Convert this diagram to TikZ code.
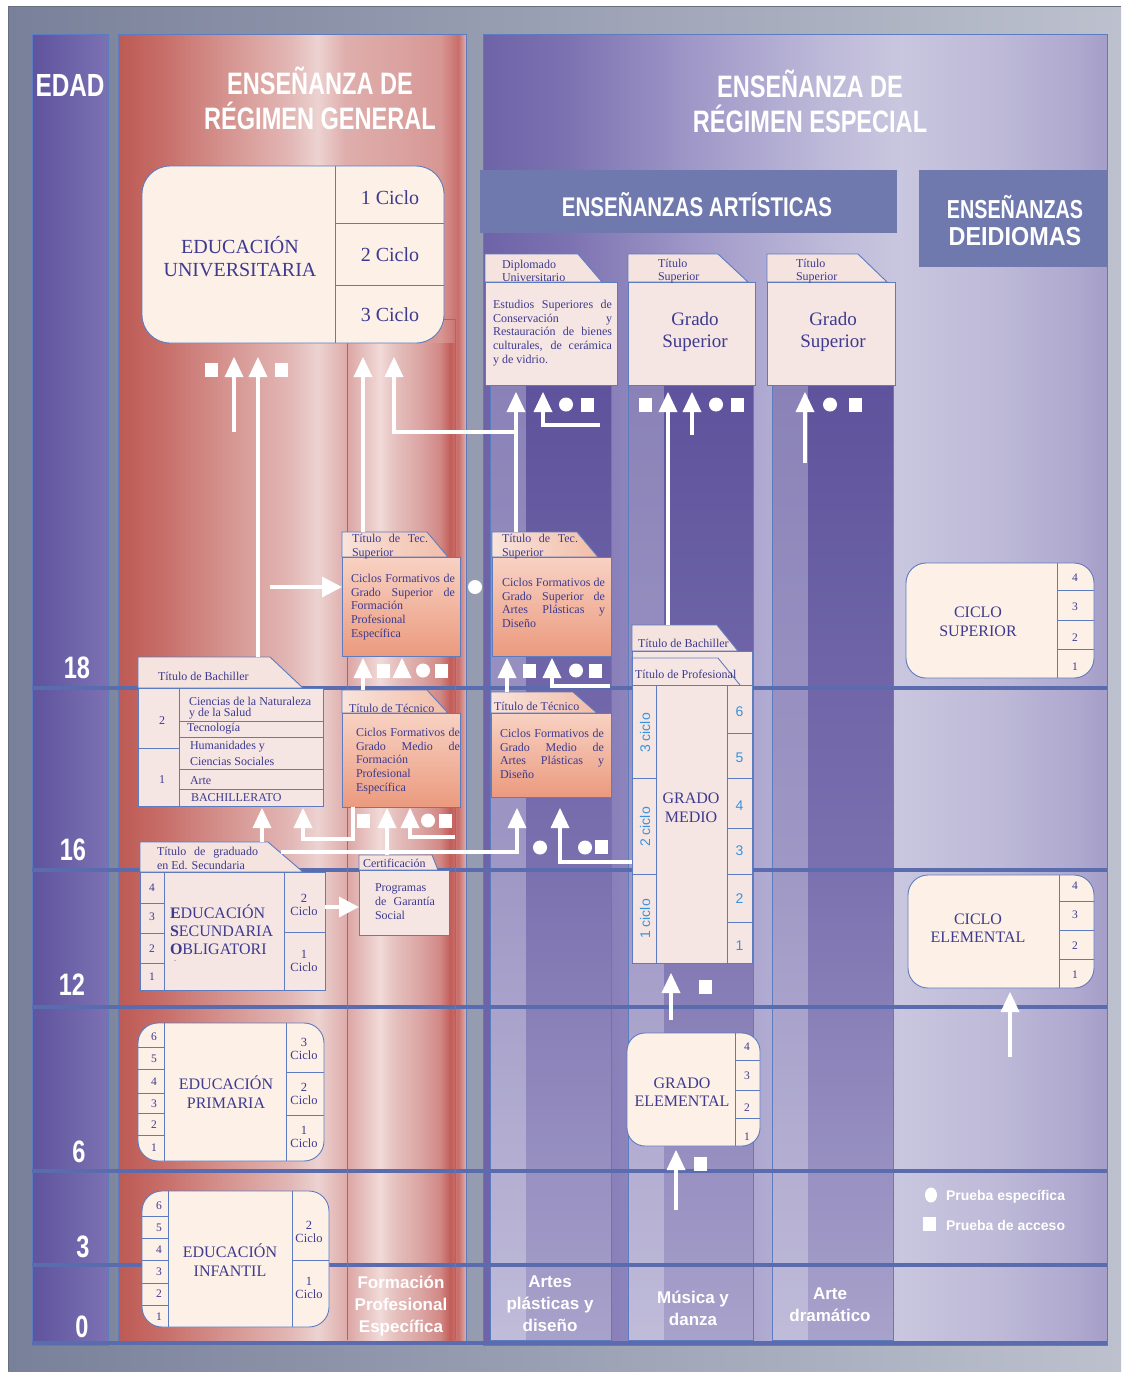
\documentclass[tikz,border=0pt]{standalone}
\usepackage{fontspec}
\setmainfont{Liberation Serif}
\newfontfamily\hdrfont[FakeStretch=0.76]{Liberation Sans}
\newfontfamily\hdrwide[FakeStretch=0.9]{Liberation Sans}
\newfontfamily\sansL{Liberation Sans}
\usetikzlibrary{arrows.meta,shapes.geometric}
\hyphenpenalty=10000
\exhyphenpenalty=10000
\tolerance=9999
\newcommand\fs[2]{\fontsize{#1}{#2}\selectfont}

% palette
\definecolor{bgL}{HTML}{79819A}
\definecolor{bgR}{HTML}{BDC1CE}
\definecolor{frameC}{HTML}{6A6F80}
\definecolor{boxline}{HTML}{5D7CC0}
\definecolor{txt}{HTML}{3D3A8F}
\definecolor{cream}{HTML}{FDF0E6}
\definecolor{pinkbox}{HTML}{F6E6E3}
\definecolor{tabpink}{HTML}{F5E3DF}
\definecolor{salT}{HTML}{F8D2C3}
\definecolor{salB}{HTML}{EB9A7E}
\definecolor{salTabL}{HTML}{F9E3DB}
\definecolor{salTabR}{HTML}{F2BDA8}
\definecolor{banner}{HTML}{6F79AE}
\definecolor{ageC}{HTML}{5B6CAE}
\definecolor{numBlue}{HTML}{3A92DC}
\definecolor{edadL}{HTML}{5F549D}
\definecolor{edadR}{HTML}{7B71B3}
\definecolor{colTop}{HTML}{5E539C}
\definecolor{colMid}{HTML}{7A70AF}
\definecolor{colBot}{HTML}{A8A2CB}
\definecolor{g1}{HTML}{BD5A54}\definecolor{g2}{HTML}{C76C67}
\definecolor{g3}{HTML}{D4908C}\definecolor{g4}{HTML}{E2B7B5}
\definecolor{g5}{HTML}{ECD3D1}\definecolor{g6}{HTML}{DFAEAC}
\definecolor{g7}{HTML}{DAA2A0}\definecolor{g8}{HTML}{D79794}
\definecolor{g9}{HTML}{C96E6B}\definecolor{g10}{HTML}{DDB0AE}
\definecolor{s1}{HTML}{6E63A7}\definecolor{s2}{HTML}{7B70B0}
\definecolor{s3}{HTML}{A19AC9}\definecolor{s4}{HTML}{BCB8D8}
\definecolor{s5}{HTML}{C9C6DF}\definecolor{s6}{HTML}{BDB9D7}
\definecolor{s7}{HTML}{AEA8CF}\definecolor{s8}{HTML}{A49EC8}
\definecolor{f1}{HTML}{DCA5A4}\definecolor{f2}{HTML}{E7C2C0}
\definecolor{f3}{HTML}{F1DAD8}\definecolor{f4}{HTML}{E5C0BE}
\definecolor{f5}{HTML}{DBA5A3}\definecolor{f6}{HTML}{D18885}
\definecolor{f7}{HTML}{C25E5A}\definecolor{f8}{HTML}{C96B67}

\pgfdeclarehorizontalshading{genshade}{100bp}{color(0bp)=(g1); color(25bp)=(g1);
  color(31bp)=(g2); color(39.7bp)=(g3); color(49.7bp)=(g4); color(53.7bp)=(g5);
  color(57.6bp)=(g6); color(65.5bp)=(g7); color(71.3bp)=(g8); color(73.9bp)=(g9);
  color(75bp)=(g10); color(100bp)=(g10)}
\pgfdeclarehorizontalshading{spcshade}{100bp}{color(0bp)=(s1); color(25bp)=(s1);
  color(31.2bp)=(s2); color(42.4bp)=(s3); color(52bp)=(s4); color(58.4bp)=(s5);
  color(66.4bp)=(s6); color(72.8bp)=(s7); color(75bp)=(s8); color(100bp)=(s8)}
\pgfdeclarehorizontalshading{fpshade}{100bp}{color(0bp)=(f1); color(25bp)=(f1);
  color(33.3bp)=(f2); color(40.3bp)=(f3); color(47.2bp)=(f4); color(58.8bp)=(f5);
  color(68.1bp)=(f6); color(72.7bp)=(f7); color(75bp)=(f8); color(100bp)=(f8)}

% white access marks: triangle, square, circle (argument = base centre)
\newcommand\Tri[1]{\fill[white] (#1) ++(-9.5,0) -- ++(19,0) -- ++(-9.5,-20) -- cycle;}
\newcommand\Sq[1]{\fill[white] (#1) ++(-6.5,0) rectangle ++(13,-14);}
\newcommand\Ci[1]{\fill[white] (#1) ++(0,-7.5) circle (7);}

\tikzset{
  bline/.style={draw=boxline, line width=0.9pt},
  creambox/.style={bline, fill=cream, inner sep=0, outer sep=0, anchor=north west},
  pinkbody/.style={bline, fill=pinkbox, inner sep=0, outer sep=0, anchor=north west},
  salbody/.style={bline, top color=salT, bottom color=salB, inner sep=0, outer sep=0, anchor=north west},
  tabnode/.style={inner sep=0, outer sep=0, anchor=north west},
  pinktab/.style={bline, fill=tabpink},
  saltab/.style={bline, left color=salTabL, right color=salTabR},
  wl/.style={draw=white, line width=3.2pt},
  wla/.style={wl, -{Triangle[width=20pt,length=20pt]}},
  ageline/.style={draw=ageC, line width=4.5pt},
  tS/.style={text=txt, font=\fs{12}{13.7}},
  tN/.style={text=txt, font=\fs{11.5}{13}},
  tC/.style={text=txt, font=\fs{12.5}{13.5}, align=center},
  tM/.style={text=txt, font=\fs{16}{18.5}, align=center},
  tL/.style={text=txt, font=\fs{20}{23}, align=center},
  tB/.style={text=numBlue, font=\sansL\fs{14}{14}},
  wh/.style={text=white},
  hdr/.style={wh, font=\hdrfont\bfseries\fs{31}{35}, align=center},
  agen/.style={wh, font=\hdrfont\bfseries\fs{31}{31}},
  foot/.style={wh, font=\sansL\bfseries\fs{17}{22}, align=center},
  just/.style={tS, anchor=north west, align=justify}
}

\begin{document}
\begin{tikzpicture}[x=1pt,y=-1pt, every node/.style={inner sep=0, outer sep=0}]
\useasboundingbox (0,0) rectangle (1128,1373);
\fill[white] (0,0) rectangle (1128,1373);
\shade[left color=bgL, right color=bgR] (8,6) rectangle (1121,1371);
\draw[frameC, line width=1pt] (8,1371) -- (8,6) -- (1121,6);

% ---------- the three bands ----------
\shadedraw[left color=edadL, right color=edadR, draw=boxline, line width=.9pt] (32,34) rectangle (108,1345);
\shadedraw[shading=genshade, draw=boxline, line width=.9pt] (118,34) rectangle (466,1341);
\shadedraw[shading=spcshade, draw=boxline, line width=.9pt] (483,34) rectangle (1107,1345);
\shade[shading=fpshade] (347,343) rectangle (455,1340);

% artistic columns
\foreach \a/\b in {490/611, 628/753, 772/893} {
  \shadedraw[top color=colTop, bottom color=colBot, middle color=colMid, draw=boxline, line width=.9pt] (\a,385) rectangle (\b,1340);
  \fill[white, opacity=.28] (\a+0.5,385) rectangle (\a+36,1340);
}

% banners
\node[fill=banner, anchor=north west, minimum width=417, minimum height=63] (bnArt) at (480,170) {};
\node[fill=banner, anchor=north west, minimum width=188, minimum height=97] (bnIdi) at (919,170) {};

% age rules
\foreach \y in {688,870,1007,1171,1265,1343} \draw[ageline] (32,\y) -- (1107,\y);

% outline of the vocational column
\draw[bline] (444,319) -- (455,319) -- (455,1340);
\draw[bline] (347,343) -- (347,1340);

% ---------- university ----------
\node[creambox, rounded corners=28pt, minimum width=302, minimum height=177] (bUniv) at (142,166) {};
\draw[bline] (335,166) -- (335,343) (335,223) -- (444,223) (335,285) -- (444,285);

% ---------- artistic higher studies ----------
\node[tabnode, minimum width=93, minimum height=28] (tDip) at (485,254) {};
\filldraw[pinktab] (tDip.south west) -- (tDip.north west) -- (tDip.north east) -- (602,282) -- cycle;
\node[pinkbody, minimum width=132, minimum height=103] (bDip) at (485,282) {};

\node[tabnode, minimum width=90, minimum height=28] (tMus) at (628,254) {};
\filldraw[pinktab] (tMus.south west) -- (tMus.north west) -- (tMus.north east) -- (748,282) -- cycle;
\node[pinkbody, minimum width=127, minimum height=103] (bMus) at (628,282) {};

\node[tabnode, minimum width=91, minimum height=28] (tDra) at (767,254) {};
\filldraw[pinktab] (tDra.south west) -- (tDra.north west) -- (tDra.north east) -- (887,282) -- cycle;
\node[pinkbody, minimum width=128, minimum height=103] (bDra) at (767,282) {};

% ---------- vocational cycles ----------
\node[tabnode, minimum width=85, minimum height=25] (tFPS) at (342,532) {};
\shadedraw[saltab] (tFPS.south west) -- (tFPS.north west) -- (tFPS.north east) -- (448,557) -- cycle;
\node[salbody, minimum width=118, minimum height=99] (bFPS) at (342,557) {};

\node[tabnode, minimum width=85, minimum height=25] (tAPS) at (492,532) {};
\shadedraw[saltab] (tAPS.south west) -- (tAPS.north west) -- (tAPS.north east) -- (598,557) -- cycle;
\node[salbody, minimum width=119, minimum height=99] (bAPS) at (492,557) {};

\node[tabnode, minimum width=85, minimum height=23] (tFPM) at (342,690) {};
\shadedraw[saltab] (tFPM.south west) -- (tFPM.north west) -- (tFPM.north east) -- (448,713) -- cycle;
\node[salbody, minimum width=118, minimum height=94] (bFPM) at (342,713) {};

\node[tabnode, minimum width=82, minimum height=21] (tAPM) at (491,692) {};
\shadedraw[saltab] (tAPM.south west) -- (tAPM.north west) -- (tAPM.north east) -- (597,713) -- cycle;
\node[salbody, minimum width=120, minimum height=84] (bAPM) at (491,713) {};

% ---------- bachillerato ----------
\node[tabnode, minimum width=132, minimum height=31] (tBach) at (138,657) {};
\filldraw[pinktab] (tBach.south west) -- (tBach.north west) -- (tBach.north east) -- (303,688) -- cycle;
\node[pinkbody, minimum width=185, minimum height=118] (bBach) at (138,688) {};
\draw[bline] (179,688) -- (179,806) (138,748) -- (179,748)
  (179,721) -- (323,721) (179,737) -- (323,737) (179,769) -- (323,769) (179,789) -- (323,789);

% ---------- secondary ----------
\node[tabnode, minimum width=128, minimum height=30] (tESO) at (140,842) {};
\filldraw[pinktab] (tESO.south west) -- (tESO.north west) -- (tESO.north east) -- (303,872) -- cycle;
\node[pinkbody, minimum width=185, minimum height=118] (bESO) at (140,872) {};
\draw[bline] (164,872) -- (164,990) (284,872) -- (284,990)
  (140,903) -- (164,903) (140,933) -- (164,933) (140,963) -- (164,963) (284,932) -- (325,932);

% ---------- social guarantee ----------
\node[tabnode, minimum width=73, minimum height=15] (tCert) at (359,855) {};
\filldraw[pinktab] (tCert.south west) -- (tCert.north west) -- (tCert.north east) -- (438,870) -- cycle;
\node[pinkbody, minimum width=90, minimum height=65] (bCert) at (359,870) {};

% ---------- music: grado medio ----------
\node[tabnode, minimum width=85, minimum height=26] (tGM1) at (632,625) {};
\filldraw[pinktab] (tGM1.south west) -- (tGM1.north west) -- (tGM1.north east) -- (738,651) -- cycle;
\node[pinkbody, minimum width=120, minimum height=312] (bGM) at (632,651) {};
\node[tabnode, minimum width=86, minimum height=27] (tGM2) at (632,658) {};
\draw[bline] (tGM2.south west) -- (tGM2.north west) -- (tGM2.north east) -- (740,685);
\draw[bline] (632,685) -- (752,685) (656,685) -- (656,963) (727,685) -- (727,963)
  (632,778) -- (656,778) (632,874) -- (656,874)
  (727,733) -- (752,733) (727,778) -- (752,778) (727,828) -- (752,828)
  (727,874) -- (752,874) (727,922) -- (752,922);

% ---------- rounded boxes ----------
\node[creambox, rounded corners=18pt, minimum width=133, minimum height=113] (bGE) at (627,1033) {};
\draw[bline] (735,1033) -- (735,1146) (735,1060) -- (760,1060) (735,1090) -- (760,1090) (735,1118) -- (760,1118);

\node[creambox, rounded corners=20pt, minimum width=188, minimum height=115] (bCS) at (906,563) {};
\draw[bline] (1057,563) -- (1057,678) (1057,590) -- (1094,590) (1057,620) -- (1094,620) (1057,649) -- (1094,649);

\node[creambox, rounded corners=20pt, minimum width=186, minimum height=113] (bCE) at (908,875) {};
\draw[bline] (1059,875) -- (1059,988) (1059,901) -- (1094,901) (1059,930) -- (1094,930) (1059,959) -- (1094,959);

\node[creambox, rounded corners=20pt, minimum width=186, minimum height=138] (bPri) at (138,1023) {};
\draw[bline] (164,1023) -- (164,1161) (286,1023) -- (286,1161) (286,1072) -- (324,1072) (286,1115) -- (324,1115);
\foreach \y in {1047,1069,1093,1113,1135} \draw[bline] (138,\y) -- (164,\y);

\node[creambox, rounded corners=20pt, minimum width=187, minimum height=136] (bInf) at (142,1191) {};
\draw[bline] (168,1191) -- (168,1327) (292,1191) -- (292,1327) (292,1260) -- (329,1260);
\foreach \y in {1216,1238,1260,1283,1305} \draw[bline] (142,\y) -- (168,\y);

% ---------- white connectors ----------
\coordinate (u1) at (211,377); \coordinate (u2) at (234,377); \coordinate (u3) at (258,377);
\coordinate (u4) at (281,377); \coordinate (u5) at (363,377); \coordinate (u6) at (394,377);
\coordinate (u2e) at (234,432); \coordinate (j1) at (516,432);
\draw[wl] (u2e) -- (u2);
\draw[wl] (tBach.north -| u3) -- (u3);
\draw[wl] (tFPS.north -| u5) -- (u5);
\draw[wl] (j1) -| (u6);

\coordinate (d1) at (516,412); \coordinate (d2) at (543,412); \coordinate (d3) at (566,412); \coordinate (d4) at (587,412);
\draw[wl] (tAPS.north -| d1) -- (d1);
\coordinate (d2e) at (600,425); \draw[wl] (d2e) -| (d2);

\coordinate (m1) at (645,412); \coordinate (m2) at (668,412); \coordinate (m3) at (692,412);
\coordinate (m4) at (716,412); \coordinate (m5) at (737,412);
\draw[wl] (tGM1.north -| m2) -- (m2);
\coordinate (m3e) at (692,435); \draw[wl] (m3e) -- (m3);

\coordinate (r1) at (805,412); \coordinate (r2) at (830,412); \coordinate (r3) at (855,412);
\coordinate (r1e) at (805,463); \draw[wl] (r1e) -- (r1);

\coordinate (f1) at (363,678); \coordinate (f2) at (383,678); \coordinate (f3) at (402,678);
\coordinate (f4) at (423,678); \coordinate (f5) at (441,678);
\draw[wl] (tFPM.north -| f1) -- (f1);
\coordinate (a1) at (507,678); \coordinate (a2) at (529,678); \coordinate (a3) at (552,678);
\coordinate (a4) at (576,678); \coordinate (a5) at (595,678);
\draw[wl] (tAPM.north -| a1) -- (a1);
\coordinate (a3e) at (610,686); \draw[wl] (a3e) -| (a3);

\coordinate (b1) at (262,828); \coordinate (b2) at (303,828); \coordinate (b3) at (363,828);
\coordinate (b4) at (387,828); \coordinate (b5) at (410,828); \coordinate (b6) at (428,828); \coordinate (b7) at (445,828);
\draw[wl] (tESO.north -| b1) -- (b1);
\draw[wl] ([xshift=11pt]bFPM.south west) -- ++(0,32) -| (b2);
\draw[wl] (tCert.north -| b4) -- (b4);
\coordinate (b5e) at (455,837); \draw[wl] (b5e) -| (b5);

\coordinate (c1) at (517,828); \coordinate (c2) at (540,855); \coordinate (c3) at (560,828);
\coordinate (c4) at (585,855); \coordinate (c5) at (601,854);
\coordinate (esoL) at (281,852); \draw[wl] (esoL) -| (c1);
\coordinate (c3e) at (632,862); \draw[wl] (c3e) -| (c3);

\coordinate (ml1) at (671,993); \coordinate (ml1e) at (671,1020); \coordinate (ml2) at (705,994);
\draw[wl] (ml1e) -- (ml1);
\coordinate (ml3) at (676,1170); \coordinate (ml3e) at (676,1210); \coordinate (ml4) at (700,1171);
\draw[wl] (ml3e) -- (ml3);
\coordinate (i1) at (1010,1012); \coordinate (i1e) at (1010,1057);
\draw[wl] (i1e) -- (i1);

\coordinate (ar1) at (270,587); \draw[wla] (ar1) -- (bFPS.west |- ar1);
\coordinate (ar2) at (325,907); \draw[wla] (bESO.east |- ar2) -- (bCert.west |- ar2);
\fill[white] (475,587) circle (7);

\foreach \p in {u2,u3,u5,u6,d1,d2,m2,m3,r1,f1,f3,a1,a3,b1,b2,b4,b5,c1,c3,ml1,ml3,i1} {\Tri{\p}}
\foreach \p in {u1,u4,d4,m1,m5,r3,f2,f5,a2,a5,b3,b7,c5,ml2,ml4} {\Sq{\p}}
\foreach \p in {d3,m4,r2,f4,a4,b6,c2,c4} {\Ci{\p}}

% ---------- headings ----------
\node[wh, font=\hdrfont\bfseries\fs{32}{32}] (hEdad) at (70,85) {EDAD};
\node[hdr] (hGen) at (320,98) {ENSEÑANZA DE\\RÉGIMEN GENERAL};
\node[hdr] (hEsp) at (810,101) {ENSEÑANZA DE\\RÉGIMEN ESPECIAL};
\node[wh, font=\hdrfont\bfseries\fs{27}{27}] (hArt) at (697,205) {ENSEÑANZAS ARTÍSTICAS};
\node[wh, font=\hdrfont\bfseries\fs{26}{30}] (hIdi1) at (1015,207) {ENSEÑANZAS};
\node[wh, font=\hdrwide\bfseries\fs{26}{30}] (hIdi2) at (1015,237) {DEIDIOMAS};

\node[agen] (e18) at (77,668) {18};
\node[agen] (e16) at (73,850) {16};
\node[agen] (e12) at (72,985) {12};
\node[agen] (e6) at (79,1152) {6};
\node[agen] (e3) at (83,1247) {3};
\node[agen] (e0) at (82,1327) {0};

% ---------- box texts ----------
\node[tL] (xUniv) at (240,257) {EDUCACIÓN\\UNIVERSITARIA};
\node[tL] (xC1) at (390,198) {1 Ciclo};
\node[tL] (xC2) at (390,255) {2 Ciclo};
\node[tL] (xC3) at (390,315) {3 Ciclo};

\node[tS, anchor=west, align=left] (xDipT) at (502,271) {Diplomado\\Universitario};
\node[just, text width=119] (xDip) at (493,300) {Estudios Superiores de\linebreak Conservación y\linebreak Restauración de bienes\linebreak culturales, de cerámica\linebreak y de vidrio.};
\node[tS, anchor=west, align=left] (xMusT) at (658,271) {Título\\Superior};
\node[text=txt, font=\fs{19}{22}, align=center] (xMus) at (695,332) {Grado\\Superior};
\node[tS, anchor=west, align=left] (xDraT) at (796,271) {Título\\Superior};
\node[text=txt, font=\fs{19}{22}, align=center] (xDra) at (833,332) {Grado\\Superior};

\node[just, text width=76] (xFPST) at (352,534) {Título de Tec.\linebreak Superior};
\node[just, text width=104] (xFPS) at (351,574) {Ciclos Formativos de\linebreak Grado Superior de\linebreak Formación\newline Profesional\newline Específica};
\node[just, text width=76] (xAPST) at (502,534) {Título de Tec.\linebreak Superior};
\node[just, text width=103] (xAPS) at (502,578) {Ciclos Formativos de\linebreak Grado Superior de\linebreak Artes Plásticas y\linebreak Diseño};
\node[tS, anchor=west] (xFPMT) at (349,708) {Título de Técnico};
\node[just, text width=104] (xFPM) at (356,728) {Ciclos Formativos de\linebreak Grado Medio de\linebreak Formación\newline Profesional\newline Específica};
\node[tS, anchor=west] (xAPMT) at (494,706) {Título de Técnico};
\node[just, text width=104] (xAPM) at (500,729) {Ciclos Formativos de\linebreak Grado Medio de\linebreak Artes Plásticas y\linebreak Diseño};

\node[tS, anchor=west] (xBachT) at (158,676) {Título de Bachiller};
\node[tS] (xB2) at (162,721) {2};
\node[tS] (xB1) at (162,780) {1};
\node[tS, anchor=west] (xBa) at (189,701) {Ciencias de la Naturaleza};
\node[tS, anchor=west] (xBb) at (189,714) {y de la Salud};
\node[tS, anchor=west] (xBc) at (187,729) {Tecnología};
\node[tS, anchor=west] (xBd) at (190,747) {Humanidades y};
\node[tS, anchor=west] (xBe) at (190,761) {Ciencias Sociales};
\node[tS, anchor=west] (xBf) at (190,781) {Arte};
\node[tS, anchor=west] (xBg) at (191,798) {BACHILLERATO};

\node[just, text width=101] (xESOT) at (157,847) {Título de graduado\linebreak en Ed. Secundaria};
\node[tN] (xE4) at (152,888) {4};
\node[tN] (xE3) at (152,917) {3};
\node[tN] (xE2) at (152,949) {2};
\node[tN] (xE1) at (152,977) {1};
\node[text=txt, font=\fs{16}{18}, anchor=west, align=left] (xESO) at (170,930) {\textbf{E}DUCACIÓN\\\textbf{S}ECUNDARIA\\\textbf{O}BLIGATORI};
\node[text=txt, font=\fs{8}{8}] (xESOd) at (175,961) {.};
\node[tC] (xEc2) at (304,905) {2\\Ciclo};
\node[tC] (xEc1) at (304,961) {1\\Ciclo};

\node[tS, anchor=west] (xCertT) at (363,863) {Certificación};
\node[just, text width=60] (xCert) at (375,884) {Programas\linebreak de Garantía\linebreak Social};

\node[tS, anchor=west] (xGM1) at (638,643) {Título de Bachiller};
\node[tS, anchor=west] (xGM2) at (635,674) {Título de Profesional};
\node[tM] (xGM) at (691,808) {GRADO\\MEDIO};
\node[tB, rotate=90] (xGc3) at (645,733) {3 ciclo};
\node[tB, rotate=90] (xGc2) at (645,827) {2 ciclo};
\node[tB, rotate=90] (xGc1) at (645,919) {1 ciclo};
\node[tB] (xG6) at (739.5,712) {6};
\node[tB] (xG5) at (739.5,758) {5};
\node[tB] (xG4) at (739.5,806) {4};
\node[tB] (xG3) at (739.5,851) {3};
\node[tB] (xG2) at (739.5,899) {2};
\node[tB] (xG1) at (739.5,946) {1};

\node[tM] (xGE) at (682,1092) {GRADO\\ELEMENTAL};
\node[tN] (xGE4) at (747,1047) {4};
\node[tN] (xGE3) at (747,1076) {3};
\node[tN] (xGE2) at (747,1108) {2};
\node[tN] (xGE1) at (747,1137) {1};

\node[tM] (xCS) at (978,622) {CICLO\\SUPERIOR};
\node[tN] (xCS4) at (1075,578) {4};
\node[tN] (xCS3) at (1075,607) {3};
\node[tN] (xCS2) at (1075,638) {2};
\node[tN] (xCS1) at (1075,667) {1};

\node[tM] (xCE) at (978,928) {CICLO\\ELEMENTAL};
\node[tN] (xCE4) at (1075,886) {4};
\node[tN] (xCE3) at (1075,915) {3};
\node[tN] (xCE2) at (1075,946) {2};
\node[tN] (xCE1) at (1075,975) {1};

\node[tM] (xPri) at (226,1092) {EDUCACIÓN\\PRIMARIA};
\node[tN] (xP6) at (154,1037) {6};
\node[tN] (xP5) at (154,1059) {5};
\node[tN] (xP4) at (154,1082) {4};
\node[tN] (xP3) at (154,1104) {3};
\node[tN] (xP2) at (154,1125) {2};
\node[tN] (xP1) at (154,1148) {1};
\node[tC] (xPc3) at (304,1049) {3\\Ciclo};
\node[tC] (xPc2) at (304,1094) {2\\Ciclo};
\node[tC] (xPc1) at (304,1137) {1\\Ciclo};

\node[tM] (xInf) at (230,1260) {EDUCACIÓN\\INFANTIL};
\node[tN] (xI6) at (159,1206) {6};
\node[tN] (xI5) at (159,1228) {5};
\node[tN] (xI4) at (159,1250) {4};
\node[tN] (xI3) at (159,1272) {3};
\node[tN] (xI2) at (159,1294) {2};
\node[tN] (xI1) at (159,1317) {1};
\node[tC] (xIc2) at (309,1232) {2\\Ciclo};
\node[tC] (xIc1) at (309,1288) {1\\Ciclo};

% ---------- column footers ----------
\node[foot] (fFP) at (401,1306) {Formación\\Profesional\\Específica};
\node[foot] (fArt) at (550,1304) {Artes\\plásticas y\\diseño};
\node[foot] (fMus) at (693,1308) {Música y\\danza};
\node[foot] (fDra) at (830,1305) {Arte\\dramático};

% ---------- legend ----------
\node[fill=white, ellipse, minimum width=12, minimum height=15] (lgC) at (931,1195) {};
\node[fill=white, minimum width=13, minimum height=14] (lgS) at (929,1224) {};
\node[wh, anchor=west, font=\sansL\bfseries\fs{14}{14}] (lgCt) at (946,1197) {Prueba específica};
\node[wh, anchor=west, font=\sansL\bfseries\fs{14}{14}] (lgSt) at (946,1225) {Prueba de acceso};
\end{tikzpicture}
\end{document}
